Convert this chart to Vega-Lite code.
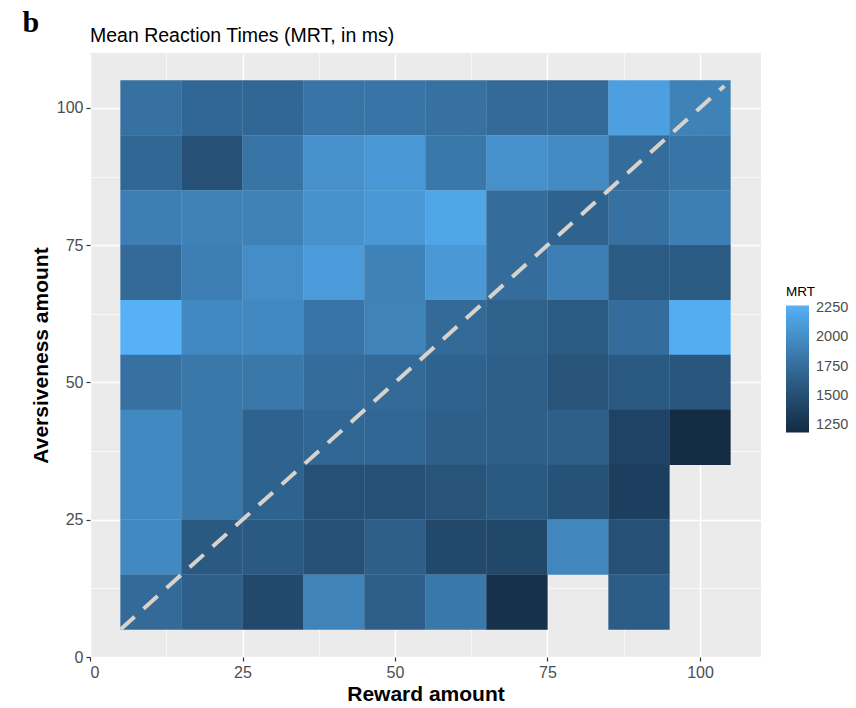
{
  "$schema": "https://vega.github.io/schema/vega-lite/v6.json",
  "width": 671,
  "height": 604,
  "autosize": {"type": "none"},
  "padding": {"left": 90, "top": 53, "right": 95, "bottom": 51},
  "background": "white",
  "title": {
    "text": "Mean Reaction Times (MRT, in ms)",
    "anchor": "start",
    "frame": "group",
    "font": "Liberation Sans",
    "fontSize": 19.5,
    "fontWeight": "normal",
    "color": "black",
    "baseline": "alphabetic",
    "offset": 9,
    "dy": 62
  },
  "config": {
    "view": {"fill": "#EBEBEB", "stroke": null},
    "axis": {
      "domain": false,
      "labelFont": "Liberation Sans",
      "labelFontSize": 16,
      "labelColor": "#4D4D4D",
      "labelPadding": 3,
      "tickColor": "#333333",
      "tickSize": 4,
      "tickWidth": 1.2,
      "gridColor": "white",
      "titleFont": "Liberation Sans",
      "titleFontSize": 21,
      "titleFontWeight": "bold",
      "titleColor": "black"
    },
    "legend": {
      "titleFont": "Liberation Sans",
      "labelFont": "Liberation Sans"
    }
  },
  "datasets": {
    "mrt": [
      {"reward": 10, "aversiveness": 100, "MRT": 1784},
      {"reward": 20, "aversiveness": 100, "MRT": 1708},
      {"reward": 30, "aversiveness": 100, "MRT": 1708},
      {"reward": 40, "aversiveness": 100, "MRT": 1816},
      {"reward": 50, "aversiveness": 100, "MRT": 1816},
      {"reward": 60, "aversiveness": 100, "MRT": 1784},
      {"reward": 70, "aversiveness": 100, "MRT": 1730},
      {"reward": 80, "aversiveness": 100, "MRT": 1730},
      {"reward": 90, "aversiveness": 100, "MRT": 2140},
      {"reward": 100, "aversiveness": 100, "MRT": 1914},

      {"reward": 10, "aversiveness": 90, "MRT": 1708},
      {"reward": 20, "aversiveness": 90, "MRT": 1514},
      {"reward": 30, "aversiveness": 90, "MRT": 1816},
      {"reward": 40, "aversiveness": 90, "MRT": 2032},
      {"reward": 50, "aversiveness": 90, "MRT": 2076},
      {"reward": 60, "aversiveness": 90, "MRT": 1838},
      {"reward": 70, "aversiveness": 90, "MRT": 2032},
      {"reward": 80, "aversiveness": 90, "MRT": 1978},
      {"reward": 90, "aversiveness": 90, "MRT": 1752},
      {"reward": 100, "aversiveness": 90, "MRT": 1816},

      {"reward": 10, "aversiveness": 80, "MRT": 1892},
      {"reward": 20, "aversiveness": 80, "MRT": 1914},
      {"reward": 30, "aversiveness": 80, "MRT": 1914},
      {"reward": 40, "aversiveness": 80, "MRT": 2032},
      {"reward": 50, "aversiveness": 80, "MRT": 2076},
      {"reward": 60, "aversiveness": 80, "MRT": 2184},
      {"reward": 70, "aversiveness": 80, "MRT": 1752},
      {"reward": 80, "aversiveness": 80, "MRT": 1676},
      {"reward": 90, "aversiveness": 80, "MRT": 1784},
      {"reward": 100, "aversiveness": 80, "MRT": 1892},

      {"reward": 10, "aversiveness": 70, "MRT": 1730},
      {"reward": 20, "aversiveness": 70, "MRT": 1892},
      {"reward": 30, "aversiveness": 70, "MRT": 2000},
      {"reward": 40, "aversiveness": 70, "MRT": 2108},
      {"reward": 50, "aversiveness": 70, "MRT": 1914},
      {"reward": 60, "aversiveness": 70, "MRT": 2086},
      {"reward": 70, "aversiveness": 70, "MRT": 1752},
      {"reward": 80, "aversiveness": 70, "MRT": 1892},
      {"reward": 90, "aversiveness": 70, "MRT": 1600},
      {"reward": 100, "aversiveness": 70, "MRT": 1600},

      {"reward": 10, "aversiveness": 60, "MRT": 2270},
      {"reward": 20, "aversiveness": 60, "MRT": 1968},
      {"reward": 30, "aversiveness": 60, "MRT": 1968},
      {"reward": 40, "aversiveness": 60, "MRT": 1806},
      {"reward": 50, "aversiveness": 60, "MRT": 1924},
      {"reward": 60, "aversiveness": 60, "MRT": 1730},
      {"reward": 70, "aversiveness": 60, "MRT": 1654},
      {"reward": 80, "aversiveness": 60, "MRT": 1600},
      {"reward": 90, "aversiveness": 60, "MRT": 1752},
      {"reward": 100, "aversiveness": 60, "MRT": 2238},

      {"reward": 10, "aversiveness": 50, "MRT": 1784},
      {"reward": 20, "aversiveness": 50, "MRT": 1838},
      {"reward": 30, "aversiveness": 50, "MRT": 1838},
      {"reward": 40, "aversiveness": 50, "MRT": 1752},
      {"reward": 50, "aversiveness": 50, "MRT": 1730},
      {"reward": 60, "aversiveness": 50, "MRT": 1676},
      {"reward": 70, "aversiveness": 50, "MRT": 1644},
      {"reward": 80, "aversiveness": 50, "MRT": 1546},
      {"reward": 90, "aversiveness": 50, "MRT": 1590},
      {"reward": 100, "aversiveness": 50, "MRT": 1568},

      {"reward": 10, "aversiveness": 40, "MRT": 1968},
      {"reward": 20, "aversiveness": 40, "MRT": 1838},
      {"reward": 30, "aversiveness": 40, "MRT": 1676},
      {"reward": 40, "aversiveness": 40, "MRT": 1708},
      {"reward": 50, "aversiveness": 40, "MRT": 1708},
      {"reward": 60, "aversiveness": 40, "MRT": 1644},
      {"reward": 70, "aversiveness": 40, "MRT": 1644},
      {"reward": 80, "aversiveness": 40, "MRT": 1644},
      {"reward": 90, "aversiveness": 40, "MRT": 1406},
      {"reward": 100, "aversiveness": 40, "MRT": 1190},

      {"reward": 10, "aversiveness": 30, "MRT": 1968},
      {"reward": 20, "aversiveness": 30, "MRT": 1838},
      {"reward": 30, "aversiveness": 30, "MRT": 1676},
      {"reward": 40, "aversiveness": 30, "MRT": 1514},
      {"reward": 50, "aversiveness": 30, "MRT": 1514},
      {"reward": 60, "aversiveness": 30, "MRT": 1546},
      {"reward": 70, "aversiveness": 30, "MRT": 1590},
      {"reward": 80, "aversiveness": 30, "MRT": 1536},
      {"reward": 90, "aversiveness": 30, "MRT": 1374},

      {"reward": 10, "aversiveness": 20, "MRT": 1968},
      {"reward": 20, "aversiveness": 20, "MRT": 1590},
      {"reward": 30, "aversiveness": 20, "MRT": 1590},
      {"reward": 40, "aversiveness": 20, "MRT": 1514},
      {"reward": 50, "aversiveness": 20, "MRT": 1644},
      {"reward": 60, "aversiveness": 20, "MRT": 1460},
      {"reward": 70, "aversiveness": 20, "MRT": 1438},
      {"reward": 80, "aversiveness": 20, "MRT": 1946},
      {"reward": 90, "aversiveness": 20, "MRT": 1514},

      {"reward": 10, "aversiveness": 10, "MRT": 1730},
      {"reward": 20, "aversiveness": 10, "MRT": 1644},
      {"reward": 30, "aversiveness": 10, "MRT": 1460},
      {"reward": 40, "aversiveness": 10, "MRT": 1924},
      {"reward": 50, "aversiveness": 10, "MRT": 1644},
      {"reward": 60, "aversiveness": 10, "MRT": 1838},
      {"reward": 70, "aversiveness": 10, "MRT": 1244},
      {"reward": 90, "aversiveness": 10, "MRT": 1622}
    ]
  },
  "layer": [
    {
      "data": {"name": "mrt"},
      "mark": {"type": "rect", "width": 61.3, "height": 55.2, "strokeWidth": 0},
      "encoding": {
        "x": {
          "field": "reward",
          "type": "quantitative",
          "title": "Reward amount",
          "scale": {"domain": [0, 110], "nice": false, "zero": false},
          "axis": {
            "values": [0, 12.5, 25, 37.5, 50, 62.5, 75, 87.5, 100],
            "labelExpr": "datum.value % 25 === 0 ? datum.label : ''",
            "tickOpacity": {"condition": {"test": "datum.value % 25 === 0", "value": 1}, "value": 0},
            "gridWidth": {"condition": {"test": "datum.value % 25 === 0", "value": 1.5}, "value": 0.7},
            "titlePadding": 3
          }
        },
        "y": {
          "field": "aversiveness",
          "type": "quantitative",
          "title": "Aversiveness amount",
          "scale": {"domain": [0, 110], "nice": false, "zero": false},
          "axis": {
            "values": [0, 12.5, 25, 37.5, 50, 62.5, 75, 87.5, 100],
            "labelExpr": "datum.value % 25 === 0 ? datum.label : ''",
            "tickOpacity": {"condition": {"test": "datum.value % 25 === 0", "value": 1}, "value": 0},
            "gridWidth": {"condition": {"test": "datum.value % 25 === 0", "value": 1.5}, "value": 0.7},
            "titlePadding": 5
          }
        },
        "color": {
          "field": "MRT",
          "type": "quantitative",
          "scale": {"range": ["#132B43", "#56B1F7"], "interpolate": "lab", "zero": false, "nice": false},
          "legend": {
            "title": "MRT",
            "orient": "none",
            "direction": "vertical",
            "legendX": 696,
            "legendY": 232,
            "values": [1250, 1500, 1750, 2000, 2250],
            "format": "d",
            "gradientLength": 127,
            "gradientThickness": 23,
            "gradientStrokeWidth": 0,
            "titleFontSize": 13.5,
            "titleFontWeight": "normal",
            "titleColor": "black",
            "titlePadding": 7,
            "labelFontSize": 14.5,
            "labelColor": "#4D4D4D",
            "labelOffset": 7
          }
        }
      }
    },
    {
      "data": {"values": [{}]},
      "mark": {"type": "rule", "color": "#D8D2CA", "strokeWidth": 4, "strokeDash": [19, 12]},
      "encoding": {
        "x": {"datum": 5},
        "y": {"datum": 5},
        "x2": {"datum": 104},
        "y2": {"datum": 104}
      }
    },
    {
      "data": {"values": [{}]},
      "mark": {"type": "text", "text": "b", "font": "Liberation Serif", "fontSize": 30, "fontWeight": "bold", "color": "black", "align": "center", "baseline": "alphabetic"},
      "encoding": {
        "x": {"datum": -9.7},
        "y": {"datum": 113.8}
      }
    }
  ]
}
